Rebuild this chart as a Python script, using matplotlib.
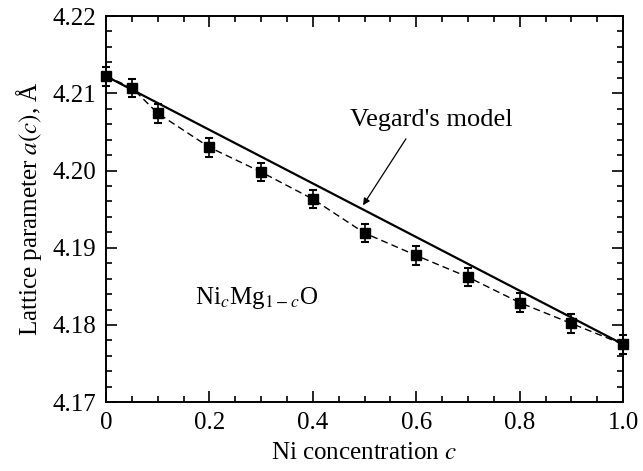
import matplotlib
matplotlib.use("Agg")
import matplotlib.pyplot as plt
from matplotlib.ticker import MultipleLocator

plt.rcParams["font.family"] = ["Liberation Serif", "DejaVu Serif"]
plt.rcParams["mathtext.fontset"] = "stix"
plt.rcParams["font.size"] = 18

# Ni concentration and measured lattice parameter (Angstrom)
conc = [0.0, 0.05, 0.1, 0.2, 0.3, 0.4, 0.5, 0.6, 0.7, 0.8, 0.9, 1.0]
lattice = [4.2122, 4.2107, 4.2074, 4.2030, 4.1998, 4.1963,
           4.1919, 4.1890, 4.1862, 4.1829, 4.1802, 4.1775]
errors = [0.0012] * len(conc)

# Vegard's law endpoints
vegard_c = [0.0, 1.0]
vegard_a = [4.2122, 4.1775]

fig = plt.figure(figsize=(6.43, 4.71), dpi=100)
ax = fig.add_axes([0.165, 0.146, 0.804, 0.82])

ax.plot(vegard_c, vegard_a, color="black", lw=1.6)
ax.plot(conc, lattice, color="black", lw=1.0, ls=(0, (5, 3)))
ax.errorbar(conc, lattice, yerr=errors, fmt="s", color="black", ms=6.5,
            elinewidth=1.2, capsize=3, capthick=1.5, clip_on=False)

# label and arrow pointing to the Vegard line
ax.text(0.629, 4.2066, "Vegard's model", ha="center", va="center", fontsize=19)
ax.annotate("", xy=(0.497, 4.1955), xytext=(0.58, 4.2041),
            arrowprops=dict(arrowstyle="-|>", color="black", lw=0.9,
                            shrinkA=0, shrinkB=0, mutation_scale=10))
ax.text(0.172, 4.1835, r"Ni$_{c}$Mg$_{1-c}$O", va="center")

ax.set_xlim(0, 1.0)
ax.set_ylim(4.17, 4.22)
ax.xaxis.set_major_locator(MultipleLocator(0.2))
ax.xaxis.set_minor_locator(MultipleLocator(0.05))
ax.yaxis.set_major_locator(MultipleLocator(0.01))
ax.yaxis.set_minor_locator(MultipleLocator(0.002))
ax.xaxis.set_major_formatter(plt.FuncFormatter(lambda v, p: "0" if v == 0 else f"{v:.1f}"))
ax.yaxis.set_major_formatter(plt.FuncFormatter(lambda v, p: f"{v:.2f}"))

ax.tick_params(which="both", direction="in", top=True, right=True, width=1.2)
ax.tick_params(which="major", length=8, pad=7)
ax.tick_params(which="minor", length=4)
for s in ax.spines.values():
    s.set_linewidth(1.4)

ax.set_xlabel(r"Ni concentration $c$", labelpad=6)
ax.set_ylabel(r"Lattice parameter $a(c)$, Å", labelpad=6)

fig.savefig("out.png", dpi=100)
